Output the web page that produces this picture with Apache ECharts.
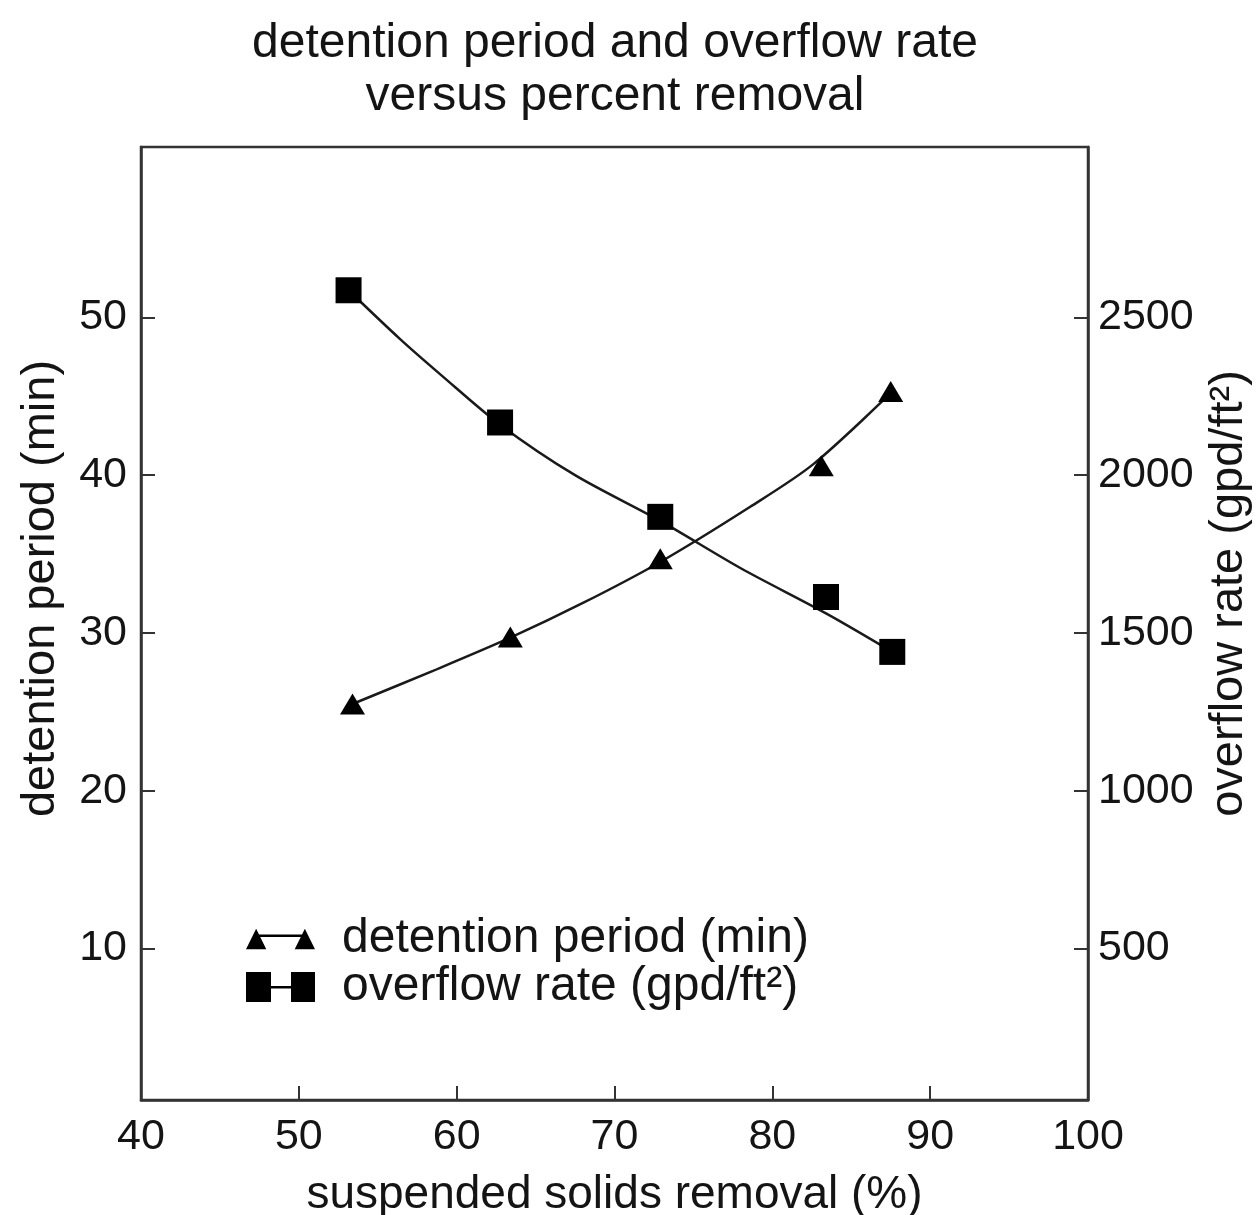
<!DOCTYPE html>
<html>
<head>
<meta charset="utf-8">
<script src="https://cdn.jsdelivr.net/npm/echarts@6/dist/echarts.min.js"></script>
<style>
  html, body { margin: 0; padding: 0; background: #fff; overflow: hidden; }
  #chart { width: 1257px; height: 1215px; }
</style>
</head>
<body>
<div id="chart"></div>
<script>
// ---- data ----
const titleLines = ['detention period and overflow rate', 'versus percent removal'];
const xTicks = [40, 50, 60, 70, 80, 90, 100];
const leftTicks = [10, 20, 30, 40, 50];
const rightTicks = [500, 1000, 1500, 2000, 2500];

// detention period (min) measured points
const detRemoval = [53.4, 63.4, 72.9, 83.1, 87.5];
const detention = [25.5, 29.75, 34.7, 40.6, 45.3];
// detention fitted curve
const detFitRemoval = [53.4, 58.5, 63.4, 68.0, 72.9, 78.6, 82.6, 87.5];
const detFit = [25.5, 27.6, 29.7, 31.9, 34.5, 38.0, 40.7, 45.2];

// overflow rate (gpd/ft2) measured points
const ovRemoval = [53.15, 62.75, 72.9, 83.4, 87.6];
const overflow = [2586, 2167, 1868, 1614, 1440];
// overflow fitted curve
const ovFitRemoval = [53.15, 56.4, 59.0, 62.75, 67.5, 72.9, 78.0, 83.4, 87.6];
const ovFit = [2586, 2432, 2318, 2160, 2000, 1855, 1705, 1562, 1440];

const pairs = (xs, ys) => xs.map((x, i) => [x, ys[i]]);

const ink = '#141414';
const font = 'Liberation Sans, Arial, sans-serif';

const chart = echarts.init(document.getElementById('chart'), null, { renderer: 'canvas' });

const triIcon = 'path://M0 22 L10 2 L20 22 Z M48 22 L58 2 L68 22 Z M12 7.5 L56 7.5 L56 10 L12 10 Z';
const sqIcon = 'path://M0 0 H25 V30 H0 Z M45 0 H69 V30 H45 Z M25 14 H45 V16.5 H25 Z';

chart.setOption({
  backgroundColor: '#ffffff',
  animation: false,
  title: {
    text: titleLines.join('\n'),
    left: 610,
    top: 12,
    textAlign: 'center',
    textStyle: { fontFamily: font, fontSize: 48, fontWeight: 'normal', color: ink, lineHeight: 53 }
  },
  grid: {
    left: 141, right: 169, top: 147, bottom: 115,
    show: true, borderColor: '#333', borderWidth: 2.5, backgroundColor: 'transparent',
    containLabel: false,
    outerBoundsMode: 'none'
  },
  legend: {
    orient: 'vertical',
    left: 246,
    top: 915,
    itemWidth: 69,
    itemHeight: 30,
    itemGap: 0,
    padding: 0,
    inactiveColor: ink,
    textStyle: { fontFamily: font, fontSize: 48, color: ink, lineHeight: 45, padding: [0, 0, 0, 22] },
    data: [
      { name: 'detention period (min)', icon: triIcon, itemStyle: { color: '#000', opacity: 1 } },
      { name: 'overflow rate (gpd/ft²)', icon: sqIcon, itemStyle: { color: '#000', opacity: 1 } }
    ]
  },
  xAxis: {
    type: 'value',
    min: xTicks[0], max: xTicks[xTicks.length - 1], interval: 10,
    name: 'suspended solids removal (%)',
    nameLocation: 'middle',
    nameGap: 72,
    nameTextStyle: { fontFamily: font, fontSize: 46, color: ink },
    axisLine: { show: true, lineStyle: { color: '#333', width: 2.5 } },
    axisTick: { show: true, inside: true, length: 14, lineStyle: { color: '#333', width: 2 } },
    axisLabel: { fontFamily: font, fontSize: 43, color: ink, margin: 16 },
    splitLine: { show: false }
  },
  yAxis: [
    {
      type: 'value',
      position: 'left',
      min: 0.4, max: 60.8,
      name: 'detention period (min)',
      nameLocation: 'middle',
      nameRotate: 90,
      nameGap: 76,
      nameTextStyle: { fontFamily: font, fontSize: 47, color: ink, padding: [0, 0, 0, 70] },
      axisLine: { show: true, lineStyle: { color: '#333', width: 2.5 } },
      axisTick: { show: true, inside: true, length: 14, customValues: leftTicks, lineStyle: { color: '#333', width: 2 } },
      axisLabel: { fontFamily: font, fontSize: 43, color: ink, margin: 14, customValues: leftTicks },
      splitLine: { show: false }
    },
    {
      type: 'value',
      position: 'right',
      min: 20, max: 3040,
      name: 'overflow rate (gpd/ft²)',
      nameLocation: 'middle',
      nameRotate: 90,
      nameGap: 118,
      nameTextStyle: { fontFamily: font, fontSize: 47, color: ink, padding: [0, 0, 0, 60] },
      axisLine: { show: true, lineStyle: { color: '#333', width: 2.5 } },
      axisTick: { show: true, inside: true, length: 14, customValues: rightTicks, lineStyle: { color: '#333', width: 2 } },
      axisLabel: { fontFamily: font, fontSize: 43, color: ink, margin: 10, customValues: rightTicks, formatter: (v) => String(v) },
      splitLine: { show: false }
    }
  ],
  series: [
    {
      name: 'detention fit',
      type: 'line',
      yAxisIndex: 0,
      smooth: 0.3,
      showSymbol: false,
      silent: true,
      lineStyle: { color: '#1a1a1a', width: 2.5 },
      data: pairs(detFitRemoval, detFit),
      z: 2
    },
    {
      name: 'overflow fit',
      type: 'line',
      yAxisIndex: 1,
      smooth: 0.3,
      showSymbol: false,
      silent: true,
      lineStyle: { color: '#1a1a1a', width: 2.5 },
      data: pairs(ovFitRemoval, ovFit),
      z: 2
    },
    {
      name: 'detention period (min)',
      type: 'scatter',
      yAxisIndex: 0,
      symbol: 'triangle',
      symbolSize: [25, 21],
      itemStyle: { color: '#000', opacity: 1 },
      data: pairs(detRemoval, detention),
      z: 3
    },
    {
      name: 'overflow rate (gpd/ft²)',
      type: 'scatter',
      yAxisIndex: 1,
      symbol: 'rect',
      symbolSize: 26,
      itemStyle: { color: '#000', opacity: 1 },
      data: pairs(ovRemoval, overflow),
      z: 3
    }
  ]
});
</script>
</body>
</html>
